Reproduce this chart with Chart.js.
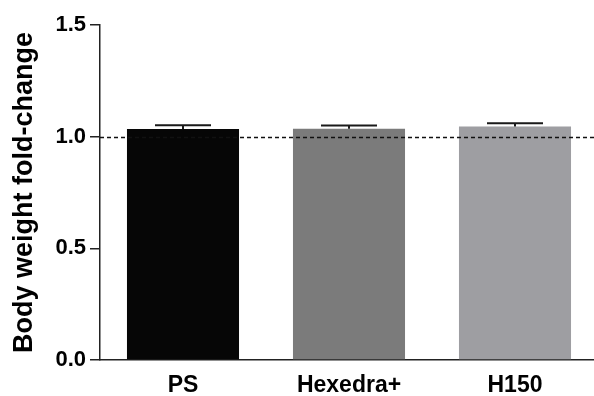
<!DOCTYPE html>
<html>
<head>
<meta charset="utf-8">
<script src="https://cdn.jsdelivr.net/npm/chart.js@4/dist/chart.umd.min.js"></script>
<style>
  html, body { margin: 0; padding: 0; background: #fff; overflow: hidden; }
  #wrap { position: relative; width: 598px; height: 396px; }
</style>
</head>
<body>
<div id="wrap"><canvas id="c"></canvas></div>
<script>
// Groups, mean fold-change and upper error (SEM)
const groups = ['PS', 'Hexedra+', 'H150'];
const foldChange = [1.034, 1.035, 1.046];
const errorUp = [0.017, 0.015, 0.014];
const barColors = ['#060606', '#7b7b7b', '#9e9ea2'];
const yTicks = [0, 0.5, 1.0, 1.5];
const baselineValue = 1.0;

const FONT = "'Liberation Sans', Arial, sans-serif";

// Upper error bars with caps half the bar width
const errorBars = {
  id: 'errorBars',
  afterDatasetsDraw(chart) {
    const { ctx, scales: { y } } = chart;
    const meta = chart.getDatasetMeta(0);
    ctx.save();
    ctx.strokeStyle = '#1a1a1a';
    ctx.lineWidth = 2;
    meta.data.forEach((bar, i) => {
      const top = y.getPixelForValue(foldChange[i]);
      const end = y.getPixelForValue(foldChange[i] + errorUp[i]);
      const half = bar.width / 4;
      ctx.beginPath();
      ctx.moveTo(bar.x, top);
      ctx.lineTo(bar.x, end);
      ctx.moveTo(bar.x - half, end);
      ctx.lineTo(bar.x + half, end);
      ctx.stroke();
    });
    ctx.restore();
  }
};

// Dashed reference line at fold-change = 1
const baseline = {
  id: 'baseline',
  afterDatasetsDraw(chart) {
    const { ctx, chartArea, scales: { y } } = chart;
    const py = Math.round(y.getPixelForValue(baselineValue)) + 0.5;
    ctx.save();
    ctx.strokeStyle = '#111';
    ctx.lineWidth = 1.5;
    ctx.setLineDash([4, 3]);
    ctx.beginPath();
    ctx.moveTo(chartArea.left, py);
    ctx.lineTo(chartArea.right, py);
    ctx.stroke();
    ctx.restore();
  }
};

new Chart(document.getElementById('c'), {
  type: 'bar',
  data: {
    labels: groups,
    datasets: [{
      data: foldChange,
      backgroundColor: barColors,
      borderWidth: 0,
      barPercentage: 0.675,
      categoryPercentage: 1.0
    }]
  },
  options: {
    responsive: true,
    maintainAspectRatio: false,
    animation: false,
    devicePixelRatio: 1,
    layout: { padding: { top: 25, right: 0, left: 0, bottom: 0 } },
    plugins: {
      legend: { display: false },
      tooltip: { enabled: false }
    },
    scales: {
      x: {
        grid: { display: false },
        border: { display: true, color: '#222', width: 1.5 },
        ticks: {
          color: '#000',
          padding: 4,
          font: { family: FONT, size: 23, weight: 'bold' }
        },
        afterFit(scale) { scale.height = 36; }
      },
      y: {
        min: 0,
        max: 1.5,
        afterBuildTicks(scale) { scale.ticks = yTicks.map(v => ({ value: v })); },
        grid: {
          drawOnChartArea: false,
          drawTicks: true,
          tickLength: 10,
          color: '#222',
          lineWidth: 1.5
        },
        border: { display: true, color: '#222', width: 1.5 },
        ticks: {
          color: '#000',
          padding: 4,
          font: { family: FONT, size: 22, weight: 'bold' },
          callback: v => Number(v).toFixed(1)
        },
        title: {
          display: true,
          text: 'Body weight fold-change',
          color: '#000',
          padding: { top: 8, bottom: 0 },
          font: { family: FONT, size: 27, weight: 'bold' }
        },
        afterFit(scale) { scale.width = 100; }
      }
    }
  },
  plugins: [errorBars, baseline]
});
</script>
</body>
</html>
